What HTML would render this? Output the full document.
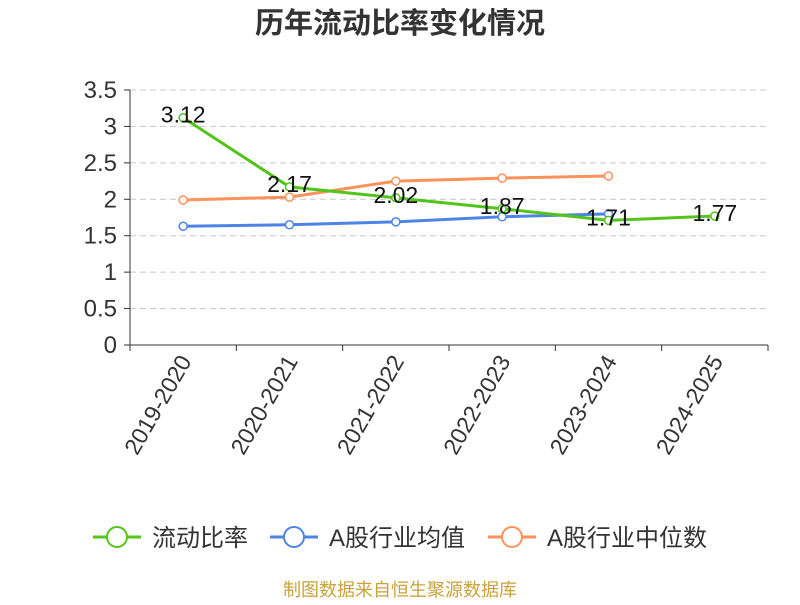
<!DOCTYPE html>
<html><head><meta charset="utf-8"><style>
body{margin:0;background:#fff;}
svg{font-family:"Liberation Sans","Noto Sans CJK SC",sans-serif;}
</style></head><body>
<svg id="c" width="800" height="600">
<text x="400" y="33" text-anchor="middle" font-size="29" font-weight="bold" fill="#333">历年流动比率变化情况</text>
<g id="grid"></g><g id="axes"></g><g id="series"></g>
<g>
 <g><line x1="93" y1="537" x2="141" y2="537" stroke="#52c41a" stroke-width="3"/><circle cx="117" cy="537" r="10" fill="#fff" stroke="#52c41a" stroke-width="2"/><text x="152" y="546" font-size="24" fill="#333">流动比率</text></g>
 <g><line x1="270" y1="537" x2="318" y2="537" stroke="#4e84e6" stroke-width="3"/><circle cx="294" cy="537" r="10" fill="#fff" stroke="#4e84e6" stroke-width="2"/><text x="329" y="546" font-size="24" fill="#333">A股行业均值</text></g>
 <g><line x1="488" y1="537" x2="536" y2="537" stroke="#ff915a" stroke-width="3"/><circle cx="512" cy="537" r="10" fill="#fff" stroke="#ff915a" stroke-width="2"/><text x="547" y="546" font-size="24" fill="#333">A股行业中位数</text></g>
</g>
<text x="400" y="596" text-anchor="middle" font-size="18" fill="#c9a23a">制图数据来自恒生聚源数据库</text>
</svg>
<script>
const categories=["2019-2020","2020-2021","2021-2022","2022-2023","2023-2024","2024-2025"];
const ratioValues=[3.12,2.17,2.02,1.87,1.71,1.77];
const avgValues=[1.63,1.65,1.69,1.76,1.80];
const medianValues=[1.99,2.03,2.25,2.29,2.32];
const yTicks=[0,0.5,1,1.5,2,2.5,3,3.5];
const NS="http://www.w3.org/2000/svg";
const L=130,R=768,T=90,B=345,yMax=3.5;
const bw=(R-L)/categories.length;
const xs=i=>L+bw*(i+0.5);
const ys=v=>B-(v/yMax)*(B-T);
function mk(p,tag,at){const e=document.createElementNS(NS,tag);for(const k in at)e.setAttribute(k,at[k]);p.appendChild(e);return e;}
const grid=document.getElementById('grid'),axes=document.getElementById('axes'),ser=document.getElementById('series');
yTicks.forEach(t=>{
 if(t>0){const g=mk(grid,'line',{x1:L,x2:R,y1:ys(t),y2:ys(t),stroke:'#c8c8c8','stroke-dasharray':'6,4'});
 
 }
 const tk=mk(axes,'line',{x1:L-6,x2:L,y1:ys(t),y2:ys(t),stroke:'#333'});
 
 
 const tx=mk(axes,'text',{x:L-13,y:ys(t)+8,'text-anchor':'end','font-size':24,fill:'#333'});tx.textContent=t;
 
 
});
const ya=mk(axes,'line',{x1:L,x2:L,y1:T,y2:B,stroke:'#333'});


const xa=mk(axes,'line',{x1:L,x2:R,y1:B,y2:B,stroke:'#333'});


for(let i=0;i<=categories.length;i++){const x=L+bw*i;const t=mk(axes,'line',{x1:x,x2:x,y1:B,y2:B+6,stroke:'#333'});
 
 }
categories.forEach((c,i)=>{const x=xs(i)+2,y=B+12;
 const t=mk(axes,'text',{x:x,y:y,'text-anchor':'end','font-size':23,fill:'#333',transform:`rotate(-60 ${x} ${y})`,dy:'0.35em'});t.textContent=c;
 
 });
function series(vals,color,name,labels){
 const g=mk(ser,'g',{});
 
 
 mk(g,'polyline',{points:vals.map((v,i)=>xs(i)+','+ys(v)).join(' '),fill:'none',stroke:color,'stroke-width':3});
 vals.forEach((v,i)=>{const c=mk(g,'circle',{cx:xs(i),cy:ys(v),r:4,fill:'#fff',stroke:color,'stroke-width':1.5});
  
  
  if(labels){const t=mk(g,'text',{x:xs(i),y:ys(v)+5,'text-anchor':'middle','font-size':23,fill:'#111'});t.textContent=v.toFixed(2);
   
   }
 });
}
series(avgValues,'#4e84e6','industry-average-series',false);
series(medianValues,'#ff915a','industry-median-series',false);
series(ratioValues,'#52c41a','current-ratio-series',true);
</script>
</body></html>
